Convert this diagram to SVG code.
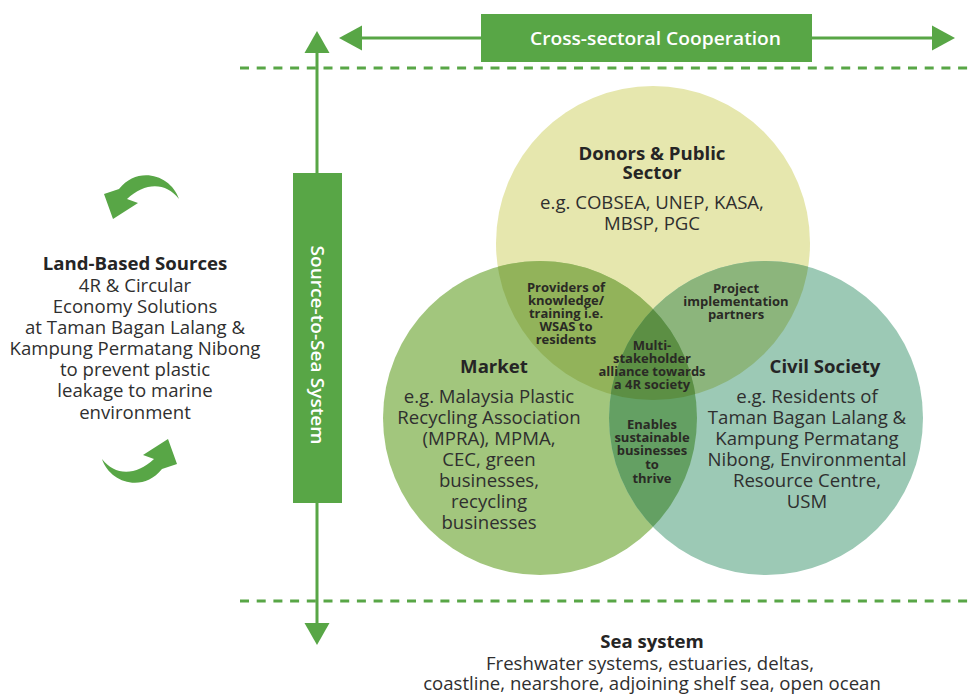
<svg xmlns="http://www.w3.org/2000/svg" width="973" height="696" viewBox="0 0 973 696">
<style>
  text { font-family: "Open Sans", "Noto Sans", "Liberation Sans", sans-serif; fill: #2f2f2f; text-anchor: middle; }
  .h { font-weight: 700; font-size: 18.6px; fill: #252525; }
  .b { font-size: 18.6px; }
  .s { font-weight: 700; font-size: 13px; fill: #2a2a25; }
  .w { font-weight: 600; fill: #ffffff; font-size: 18px; }
  .g { fill: #58a646; }
  .ln { stroke: #58a646; stroke-width: 3; fill: none; }
  .dash { stroke: #58a646; stroke-width: 3; fill: none; stroke-dasharray: 9 7.7; }
</style>
<defs>
  <clipPath id="cD"><circle cx="653" cy="243" r="157"/></clipPath>
  <clipPath id="cM"><circle cx="540" cy="418" r="157"/></clipPath>
  <path id="curl" d="M179,199 C171,175 138,165 119,189 L104,194 L113,219 L138,203 L127,199 C145,182 166,182 179,199 Z"/>
</defs>
<rect width="973" height="696" fill="#ffffff"/>

<g id="connectors">
  <line class="dash" x1="240" y1="68" x2="973" y2="68"/>
  <line class="dash" x1="240" y1="601" x2="973" y2="601"/>
  <line class="ln" x1="358" y1="38" x2="936" y2="38"/>
  <polygon class="g" points="339,38 362,25.5 362,50.5"/>
  <polygon class="g" points="955,38 932,25.5 932,50.5"/>
  <line class="ln" x1="317" y1="50" x2="317" y2="626"/>
  <polygon class="g" points="317,31 304.5,53 329.5,53"/>
  <polygon class="g" points="317,645 304.5,623 329.5,623"/>
  <use href="#curl" class="g"/>
  <use href="#curl" class="g" transform="rotate(180 140.5 329)"/>
</g>

<g id="venn">
  <circle cx="653" cy="243" r="157" fill="#e6e7ae"/>
  <circle cx="540" cy="418" r="157" fill="#a2c67d"/>
  <circle cx="766" cy="418" r="157" fill="#9cc9b5"/>
  <circle cx="540" cy="418" r="157" fill="#92b35a" clip-path="url(#cD)"/>
  <circle cx="766" cy="418" r="157" fill="#8cb57c" clip-path="url(#cD)"/>
  <circle cx="766" cy="418" r="157" fill="#64a063" clip-path="url(#cM)"/>
  <g clip-path="url(#cD)"><circle cx="766" cy="418" r="157" fill="#5c8f44" clip-path="url(#cM)"/></g>
</g>

<g id="cross-sectoral">
  <rect x="481" y="14" width="331" height="48" class="g"/>
  <text class="w" x="655.5" y="45" textLength="251" lengthAdjust="spacingAndGlyphs">Cross-sectoral Cooperation</text>
</g>

<g id="source-to-sea">
  <rect x="293" y="173" width="49" height="330" class="g"/>
  <text class="w" transform="translate(311,345) rotate(90)" x="0" y="0" textLength="199" lengthAdjust="spacingAndGlyphs">Source-to-Sea System</text>
</g>

<g id="land-based">
  <text class="h" x="135" y="270">Land-Based Sources</text>
  <text class="b" x="135" y="292">4R &amp; Circular</text>
  <text class="b" x="135" y="313">Economy Solutions</text>
  <text class="b" x="135" y="334">at Taman Bagan Lalang &amp;</text>
  <text class="b" x="135" y="355">Kampung Permatang Nibong</text>
  <text class="b" x="135" y="376">to prevent plastic</text>
  <text class="b" x="135" y="397">leakage to marine</text>
  <text class="b" x="135" y="419">environment</text>
</g>

<g id="donors">
  <text class="h" x="652" y="160">Donors &amp; Public</text>
  <text class="h" x="652" y="179">Sector</text>
  <text class="b" x="652" y="209">e.g. COBSEA, UNEP, KASA,</text>
  <text class="b" x="652" y="230">MBSP, PGC</text>
</g>

<g id="market">
  <text class="h" x="494" y="373">Market</text>
  <text class="b" x="489" y="403">e.g. Malaysia Plastic</text>
  <text class="b" x="489" y="424">Recycling Association</text>
  <text class="b" x="489" y="445">(MPRA), MPMA,</text>
  <text class="b" x="489" y="466">CEC, green</text>
  <text class="b" x="489" y="487">businesses,</text>
  <text class="b" x="489" y="508">recycling</text>
  <text class="b" x="489" y="529">businesses</text>
</g>

<g id="civil-society">
  <text class="h" x="825" y="373">Civil Society</text>
  <text class="b" x="807" y="403">e.g. Residents of</text>
  <text class="b" x="807" y="424">Taman Bagan Lalang &amp;</text>
  <text class="b" x="807" y="445">Kampung Permatang</text>
  <text class="b" x="807" y="466">Nibong, Environmental</text>
  <text class="b" x="807" y="487">Resource Centre,</text>
  <text class="b" x="807" y="508">USM</text>
</g>

<g id="providers">
  <text class="s" x="566" y="292">Providers of</text>
  <text class="s" x="566" y="305">knowledge/</text>
  <text class="s" x="566" y="318">training i.e.</text>
  <text class="s" x="566" y="331">WSAS to</text>
  <text class="s" x="566" y="344">residents</text>
</g>

<g id="project">
  <text class="s" x="736" y="293">Project</text>
  <text class="s" x="736" y="306">implementation</text>
  <text class="s" x="736" y="319">partners</text>
</g>

<g id="alliance">
  <text class="s" x="652" y="350">Multi-</text>
  <text class="s" x="652" y="363">stakeholder</text>
  <text class="s" x="652" y="376">alliance towards</text>
  <text class="s" x="652" y="389">a 4R society</text>
</g>

<g id="enables">
  <text class="s" x="652" y="429">Enables</text>
  <text class="s" x="652" y="442">sustainable</text>
  <text class="s" x="652" y="455">businesses</text>
  <text class="s" x="652" y="469">to</text>
  <text class="s" x="652" y="483">thrive</text>
</g>

<g id="sea-system">
  <text class="h" x="652" y="648">Sea system</text>
  <text class="b" x="650" y="670">Freshwater systems, estuaries, deltas,</text>
  <text class="b" x="652" y="690">coastline, nearshore, adjoining shelf sea, open ocean</text>
</g>
</svg>
